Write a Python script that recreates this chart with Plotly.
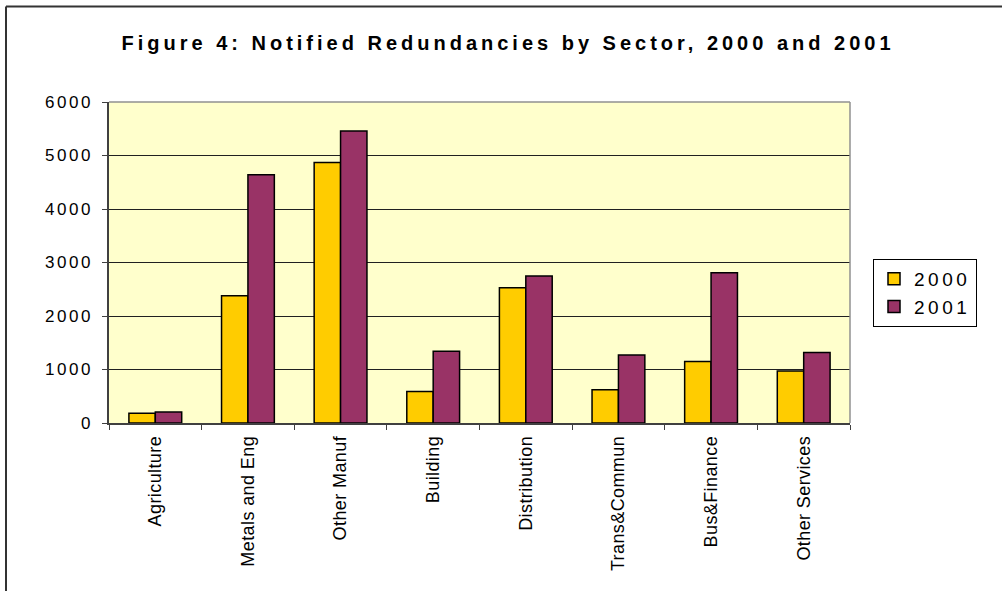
import plotly.graph_objects as go

categories = ["Agriculture", "Metals and Eng", "Other Manuf", "Building",
              "Distribution", "Trans&Commun", "Bus&Finance", "Other Services"]
values_2000 = [180, 2380, 4870, 590, 2530, 620, 1150, 970]
values_2001 = [205, 4640, 5460, 1340, 2750, 1270, 2810, 1320]
y_ticks = [0, 1000, 2000, 3000, 4000, 5000, 6000]
title_text = "Figure 4: Notified Redundancies by Sector, 2000 and 2001"

W, H = 1002, 591
L, R, T, B = 109, 850, 102, 423  # plot area in pixels


def px(x):
    return (x - L) / (R - L)


def py(y):
    return (B - y) / (B - T)


def spaced(s, sp):
    return f'<span style="letter-spacing:{sp}px">{s}</span>'


FONT = "Liberation Sans, Arial, sans-serif"

fig = go.Figure()
fig.add_trace(go.Bar(x=categories, y=values_2000, name=spaced("2000", 3.5),
                     marker=dict(color="#FFCC00", line=dict(color="black", width=1.5))))
fig.add_trace(go.Bar(x=categories, y=values_2001, name=spaced("2001", 3.5),
                     marker=dict(color="#993366", line=dict(color="black", width=1.5))))

fig.update_layout(
    width=W, height=H,
    margin=dict(l=L, r=W - R, t=T, b=H - B, autoexpand=False),
    paper_bgcolor="white",
    plot_bgcolor="#FFFFCC",
    barmode="group",
    bargap=0.43,
    bargroupgap=0,
    font=dict(family=FONT, color="black", size=17),
    title=dict(text="<b>" + spaced(title_text, 4) + "</b>",
               x=508 / W, xanchor="center", y=1 - 43 / H, yanchor="middle",
               font=dict(size=20, family=FONT, color="black")),
    legend=dict(x=px(873), xanchor="left", y=py(259), yanchor="top",
                bordercolor="black", borderwidth=1, bgcolor="white",
                font=dict(size=19, family=FONT), traceorder="normal"),
    xaxis=dict(tickangle=-90, tickson="boundaries", ticks="outside", ticklen=5,
               tickcolor="#404040", showline=True, linecolor="#404040", linewidth=1.5,
               tickvals=categories,
               ticktext=[spaced(c, 0.4) for c in categories],
               tickfont=dict(size=18, family=FONT), showgrid=False,
               ticklabelstandoff=4),
    yaxis=dict(range=[0, 6000], tickvals=y_ticks,
               ticktext=[spaced(str(v), 2.5) for v in y_ticks],
               ticks="outside", ticklen=5, tickcolor="#404040",
               showline=True, linecolor="#404040", linewidth=1.5,
               showgrid=True, gridcolor="#202020", gridwidth=1,
               tickfont=dict(size=17, family=FONT), zeroline=False,
               ticklabelstandoff=6),
)

# plot-area border (gray) on top and right
fig.add_shape(type="line", xref="paper", yref="paper", x0=0, x1=1, y0=1, y1=1,
              line=dict(color="#909090", width=1.5))
fig.add_shape(type="line", xref="paper", yref="paper", x0=1, x1=1, y0=0, y1=1,
              line=dict(color="#909090", width=1.5))
# outer chart frame (left and top edges visible)
fig.add_shape(type="line", xref="paper", yref="paper", x0=px(6), x1=px(6),
              y0=py(6.5), y1=py(H + 5), line=dict(color="#333333", width=2))
fig.add_shape(type="line", xref="paper", yref="paper", x0=px(6), x1=px(W + 5),
              y0=py(6.5), y1=py(6.5), line=dict(color="#333333", width=2))

fig.write_html("out.html")
